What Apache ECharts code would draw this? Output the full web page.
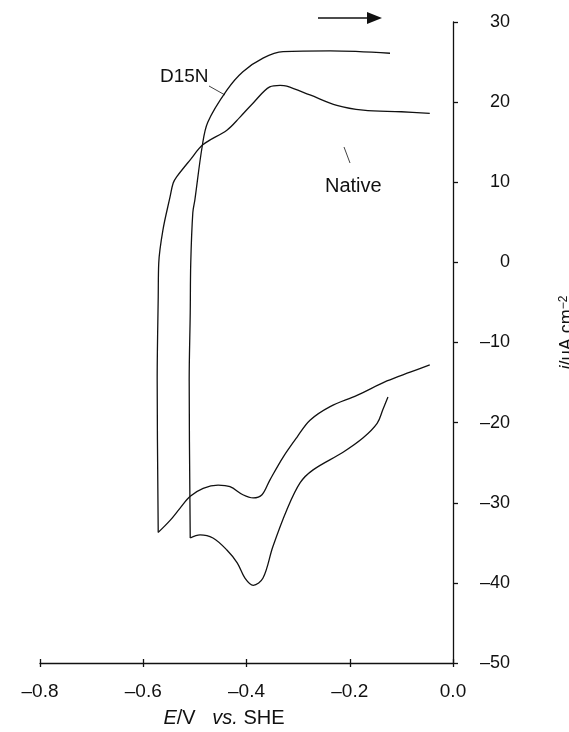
<!DOCTYPE html>
<html>
<head>
<meta charset="utf-8">
<script src="https://cdn.jsdelivr.net/npm/echarts@6/dist/echarts.min.js"></script>
<style>
html,body{margin:0;padding:0;background:#fff;}
#chart{width:569px;height:732px;}
</style>
</head>
<body>
<div id="chart"></div>
<script>
// Data (E in V vs SHE, i in uA cm^-2)
var xTicks = [-0.8, -0.6, -0.4, -0.2, 0.0];
var yTicks = [-50, -40, -30, -20, -10, 0, 10, 20, 30];

// Native: reductive (lower) branch, scanned from right to left
var nativeLowerE = [-0.045, -0.083, -0.128, -0.186, -0.238, -0.277, -0.302, -0.329, -0.355, -0.370, -0.387, -0.407, -0.432, -0.455, -0.484, -0.509, -0.529, -0.548, -0.571];
var nativeLowerI = [-12.8, -13.7, -14.8, -16.6, -18.0, -19.7, -21.8, -24.3, -27.2, -29.0, -29.4, -29.0, -28.0, -27.8, -28.2, -29.2, -30.7, -32.2, -33.7];
// Native: oxidative (upper) branch, scanned from left to right
var nativeUpperE = [-0.571, -0.573, -0.571, -0.570, -0.562, -0.548, -0.542, -0.535, -0.509, -0.484, -0.438, -0.413, -0.387, -0.355, -0.335, -0.322, -0.277, -0.225, -0.174, -0.100, -0.045];
var nativeUpperI = [-33.7, -14.7, -4.3, -0.1, 4.0, 8.2, 9.9, 10.7, 12.8, 14.7, 16.5, 18.1, 19.9, 21.9, 22.1, 22.0, 20.9, 19.6, 19.0, 18.8, 18.6];

// D15N: reductive (lower) branch
var d15nLowerE = [-0.126, -0.136, -0.147, -0.174, -0.213, -0.271, -0.296, -0.322, -0.349, -0.368, -0.387, -0.403, -0.418, -0.438, -0.465, -0.490, -0.509];
var d15nLowerI = [-16.8, -18.4, -20.1, -21.9, -23.7, -25.9, -27.5, -30.9, -35.5, -39.4, -40.3, -39.4, -37.5, -35.9, -34.4, -34.0, -34.4];
// D15N: oxidative (upper) branch
var d15nUpperE = [-0.509, -0.511, -0.509, -0.508, -0.504, -0.500, -0.486, -0.475, -0.438, -0.407, -0.368, -0.329, -0.238, -0.122];
var d15nUpperI = [-34.4, -14.7, -6.3, -0.1, 6.2, 7.8, 14.4, 17.5, 21.5, 23.8, 25.5, 26.3, 26.4, 26.1];

function pairs(xs, ys){ return xs.map(function(x,i){ return [x, ys[i]]; }); }

var FONT = 'Liberation Sans';
var INK = '#111';
var lineStyle = {color:INK, width:1.3};
function ser(name, xs, ys){
  return {name:name, type:'line', data:pairs(xs, ys), smooth:0.35, symbol:'none', lineStyle:lineStyle, silent:true};
}

var chart = echarts.init(document.getElementById('chart'));
chart.setOption({
  animation:false,
  backgroundColor:'#fff',
  textStyle:{fontFamily:FONT},
  grid:{left:40, right:116, top:22, bottom:69, containLabel:false, outerBoundsMode:'none'},
  xAxis:[{
    type:'value', min:-0.8, max:0, interval:0.2, position:'bottom',
    axisLine:{show:true, onZero:false, lineStyle:{color:INK, width:1.3}},
    axisTick:{show:true, inside:false, length:4, lineStyle:{color:INK, width:1.3}},
    axisLabel:{color:INK, fontSize:19, margin:19, formatter:function(v){ return v === 0 ? '0.0' : v.toFixed(1).replace('-', '\u2013'); }},
    splitLine:{show:false},
    name:'{it|E}/V   {it|vs.} SHE', nameLocation:'middle', nameGap:45,
    nameTextStyle:{color:INK, fontSize:20, padding:[0,45,0,0], rich:{it:{fontStyle:'italic', fontSize:20, color:INK, fontFamily:FONT}}}
  },{
    type:'value', min:-0.8, max:0, interval:0.2, position:'bottom',
    axisLine:{show:false, onZero:false}, axisLabel:{show:false}, splitLine:{show:false},
    axisTick:{show:true, inside:true, length:4, lineStyle:{color:INK, width:1.3}}
  }],
  yAxis:{
    type:'value', min:-50, max:30, interval:10, position:'right',
    axisLine:{show:true, onZero:false, lineStyle:{color:INK, width:1.3}},
    axisTick:{show:true, inside:false, length:5, lineStyle:{color:INK, width:1.3}},
    axisLabel:{color:INK, fontSize:18, margin:57, align:'right', formatter:function(v){ return String(v).replace('-', '\u2013'); }},
    splitLine:{show:false},
    name:'{it|i}/\u03bcA cm{sup|\u22122}', nameLocation:'middle', nameRotate:90, nameGap:105,
    nameTextStyle:{color:INK, fontSize:18, padding:[0,0,0,20], rich:{it:{fontStyle:'italic', fontSize:18, color:INK, fontFamily:FONT}, sup:{fontSize:12, verticalAlign:'top', color:INK, fontFamily:FONT}}}
  },
  series:[
    ser('Native reduction', nativeLowerE, nativeLowerI),
    ser('Native oxidation', nativeUpperE, nativeUpperI),
    ser('D15N reduction', d15nLowerE, d15nLowerI),
    ser('D15N oxidation', d15nUpperE, d15nUpperI)
  ],
  graphic:[
    {type:'line', shape:{x1:318, y1:18, x2:369, y2:18}, style:{stroke:INK, lineWidth:1.3}},
    {type:'polygon', shape:{points:[[367,12],[382,18],[367,24]]}, style:{fill:INK}},
    {type:'text', x:160, y:77, style:{text:'D15N', font:'19px "Liberation Sans"', fill:INK, verticalAlign:'middle'}},
    {type:'line', shape:{x1:209, y1:86, x2:225, y2:95}, style:{stroke:INK, lineWidth:0.8}},
    {type:'text', x:325, y:186, style:{text:'Native', font:'20px "Liberation Sans"', fill:INK, verticalAlign:'middle'}},
    {type:'line', shape:{x1:344, y1:147, x2:350, y2:163}, style:{stroke:INK, lineWidth:0.8}}
  ]
});
</script>
</body>
</html>
